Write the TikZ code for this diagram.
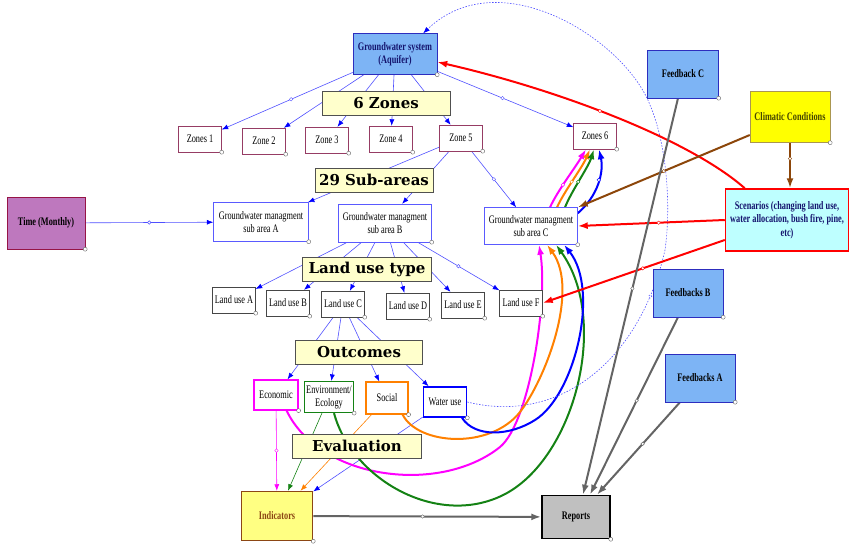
\documentclass[tikz,border=0pt]{standalone}
\usepackage{fontspec}
\usepackage{tikz}
\usetikzlibrary{arrows.meta,backgrounds}
\newfontfamily\nf{Liberation Serif}[FakeStretch=0.72]
\newfontfamily\hf{DejaVu Serif}

\definecolor{lnblue}{RGB}{80,80,255}
\definecolor{zonecol}{RGB}{150,60,100}
\definecolor{gmcol}{RGB}{90,90,255}
\definecolor{lucol}{RGB}{70,70,70}
\definecolor{aqfill}{RGB}{125,180,245}
\definecolor{aqdraw}{RGB}{45,45,190}
\definecolor{hdfill}{RGB}{255,255,204}
\definecolor{hddraw}{RGB}{80,80,80}
\definecolor{timefill}{RGB}{190,120,190}
\definecolor{timedraw}{RGB}{150,20,70}
\definecolor{climfill}{RGB}{255,255,0}
\definecolor{climdraw}{RGB}{170,150,80}
\definecolor{scenfill}{RGB}{190,255,255}
\definecolor{indfill}{RGB}{255,255,130}
\definecolor{inddraw}{RGB}{140,70,20}
\definecolor{repfill}{RGB}{192,192,192}
\definecolor{brn}{RGB}{140,70,10}
\definecolor{grn}{RGB}{20,130,20}
\definecolor{org}{RGB}{255,128,0}
\definecolor{mag}{RGB}{255,0,255}
\definecolor{blu}{RGB}{0,0,255}
\definecolor{gry}{RGB}{100,100,100}
\definecolor{navy}{RGB}{20,20,110}

\tikzset{
  box/.style={draw, fill=white, inner sep=1pt, align=center,
    font=\nf\fontsize{11.5}{13}\selectfont},
  zone/.style={box, draw=zonecol, minimum width=43pt, minimum height=26pt},
  gm/.style={box, draw=gmcol, minimum width=95pt, minimum height=39pt},
  lu/.style={box, draw=lucol, minimum width=43pt, minimum height=26pt},
  oc/.style={box, minimum width=44pt, minimum height=30pt, line width=1.2pt},
  bold/.style={box, font=\nf\bfseries\fontsize{11.5}{13.5}\selectfont},
  hdbox/.style={draw=hddraw, fill=hdfill, line width=0.8pt, minimum height=24pt,
    inner sep=2pt, font=\hf\bfseries\fontsize{15}{17}\selectfont},
  thin/.style={lnblue, line width=0.6pt, -{Latex[length=6.5pt,width=5pt,color=blu]}},
  thk/.style={line width=2pt, -{Latex[length=10pt,width=7pt]}},
  mdot/.style={circle, draw, fill=white, inner sep=0pt, minimum size=3.5pt, line width=0.4pt},
  hnd/.style={circle, draw=gry, fill=white, inner sep=0pt, minimum size=4pt, line width=0.4pt}
}

\begin{document}
\begin{tikzpicture}[x=1pt,y=-1pt]
  \useasboundingbox (0,0) rectangle (850,543);

  % Nodes
  \node[bold, fill=aqfill, draw=aqdraw, text=navy, minimum width=84pt, minimum height=41pt] (gws) at (395,54) {Groundwater system\\(Aquifer)};
  \node[hdbox, minimum width=128pt] (zh) at (386,103) {6 Zones};
  \node[zone] (z1) at (200,139) {Zones 1};
  \node[zone] (z2) at (264,141) {Zone 2};
  \node[zone] (z3) at (327,140) {Zone 3};
  \node[zone] (z4) at (391,139) {Zone 4};
  \node[zone] (z5) at (461,138) {Zone 5};
  \node[zone] (z6) at (595,136) {Zones 6};

  \node[hdbox, minimum width=118pt] (sah) at (374,180) {29 Sub-areas};
  \node[bold, fill=timefill, draw=timedraw, minimum width=78pt, minimum height=52pt] (time) at (46,223) {Time (Monthly)};
  \node[gm] (gma) at (261,222) {Groundwater managment\\sub area A};
  \node[gm, minimum width=93pt, minimum height=38pt] (gmb) at (385,223) {Groundwater managment\\sub area B};
  \node[gm, minimum width=93pt, minimum height=37pt] (gmc) at (531,226) {Groundwater managment\\sub area C};

  \node[bold, fill=aqfill, draw=aqdraw, minimum width=71pt, minimum height=48pt] (fbc) at (683,74) {Feedback C};
  \node[bold, fill=climfill, draw=climdraw, text={rgb,255:red,70;green,70;blue,0}, minimum width=80pt, minimum height=51pt] (clim) at (790,117) {Climatic Conditions};
  \node[bold, fill=scenfill, draw=red, line width=1.5pt, text=navy, minimum width=123pt, minimum height=62pt] (scen) at (787,220) {Scenarios (changing land use,\\water allocation, bush fire, pine,\\etc)};

  \node[hdbox, minimum width=129pt] (luh) at (367,269) {Land use type};
  \node[lu] (lua) at (234,300) {Land use A};
  \node[lu] (lub) at (288,303) {Land use B};
  \node[lu] (luc) at (343,304) {Land use C};
  \node[lu] (lud) at (408,306) {Land use D};
  \node[lu] (lue) at (463,305) {Land use E};
  \node[lu] (luf) at (521,303) {Land use F};

  \node[bold, fill=aqfill, draw=aqdraw, minimum width=70pt, minimum height=48pt] (fbb) at (688,293) {Feedbacks B};
  \node[bold, fill=aqfill, draw=aqdraw, minimum width=70pt, minimum height=48pt] (fba) at (700,378) {Feedbacks A};

  \node[hdbox, minimum width=127pt] (och) at (359,352) {Outcomes};
  \node[oc, draw=mag] (eco) at (276,395) {Economic};
  \node[oc, draw=grn, minimum width=49pt, minimum height=31pt] (env) at (329,397) {Environment/\\Ecology};
  \node[oc, draw=org, minimum width=42pt, minimum height=32pt] (soc) at (387,398) {Social};
  \node[oc, draw=blu, line width=1.6pt, minimum width=43pt] (wu) at (445,402) {Water use};

  \node[hdbox, minimum width=129pt] (evh) at (357,446) {Evaluation};
  \node[bold, fill=indfill, draw=inddraw, line width=1.5pt, text=inddraw, minimum width=71pt, minimum height=49pt] (ind) at (277,516) {Indicators};
  \node[bold, fill=repfill, draw=black, line width=1.5pt, minimum width=68pt, minimum height=43pt] (rep) at (576,517) {Reports};

  % Handles
  \foreach \n in {gws,z1,z2,z3,z4,z5,z6,time,gma,gmb,gmc,fbc,clim,lua,lub,luc,lud,lue,luf,fbb,fba,eco,env,soc,wu,ind,rep}
    \node[hnd] at (\n.south east) {};

  % Edges
  \begin{pgfonlayer}{background}
    \draw[thin] (gws) -- node[mdot, pos=0.47] {} (z1);
    \draw[thin] (gws) -- (z2);
    \draw[thin] (gws) -- (z3);
    \draw[thin] (gws) -- (z4);
    \draw[thin] (gws) -- (z5);
    \draw[thin] (gws) -- node[mdot, pos=0.48] {} (z6);
    \draw[thin] (z5) -- (gma);
    \draw[thin] (z5) -- (gmb);
    \draw[thin] (z5) -- node[mdot] {} (gmc);
    \draw[thin] (time) -- node[mdot] {} (gma);
    \draw[thin] (gmb) -- (lua);
    \draw[thin] (gmb) -- (lub);
    \draw[thin] (gmb) -- (luc);
    \draw[thin] (gmb) -- (lud);
    \draw[thin] (gmb) -- (lue);
    \draw[thin] (gmb) -- node[mdot] {} (luf);
    \draw[thin] (luc) -- (eco);
    \draw[thin] (luc) -- (env);
    \draw[thin] (luc) -- (soc);
    \draw[thin] (luc) -- (wu);
    \draw[thin, mag, -{Latex[length=6.5pt,width=5pt]}] (eco) -- node[mdot] {} (ind);
    \draw[thin, grn, -{Latex[length=6.5pt,width=5pt]}] (env) -- (ind);
    \draw[thin, org, -{Latex[length=6.5pt,width=5pt]}] (soc) -- (ind);
    \draw[thin] (wu) -- (ind);

    % outcomes feeding sub area C
    \draw[thk, mag] ([xshift=-12pt]eco.south east) .. controls (320,480) and (440,495) .. (500,447)
      .. controls (530,422) and (548,300) .. ([xshift=8pt]gmc.south);
    \draw[thk, org] ([xshift=-6pt]soc.south east) .. controls (418,445) and (490,450) .. (520,412)
      .. controls (545,380) and (580,290) .. ([xshift=16pt]gmc.south);
    \draw[thk, grn] ([xshift=5pt]env.south) .. controls (352,480) and (440,530) .. (507,493)
      .. controls (575,455) and (610,320) .. ([xshift=25pt]gmc.south);
    \draw[thk, blu] ([xshift=17pt]wu.south) .. controls (475,438) and (510,436) .. (535,420)
      .. controls (575,395) and (600,290) .. ([xshift=33pt]gmc.south);

    % sub area C to zone 6
    \draw[thk, mag] ([xshift=19pt]gmc.north) .. controls (558,190) and (575,168) .. ([xshift=-9pt]z6.south) node[mdot, pos=0.4] {};
    \draw[thk, org] ([xshift=26pt]gmc.north) .. controls (565,190) and (582,168) .. ([xshift=-5pt]z6.south) node[mdot, pos=0.45] {};
    \draw[thk, grn] ([xshift=34pt]gmc.north) .. controls (572,190) and (588,168) .. ([xshift=-1pt]z6.south) node[mdot, pos=0.45] {};
    \draw[thk, blu] ([yshift=-6pt]gmc.north east) .. controls (598,196) and (604,172) .. ([xshift=4pt]z6.south) node[mdot, pos=0.55] {};

    % water use back to the aquifer
    \draw[thin, dash pattern=on 1.5pt off 1.5pt] (wu.east) .. controls (560,425) and (640,360) .. (665,250) node[mdot, pos=0.85] {}
      .. controls (672,200) and (665,140) .. (650,105)
      .. controls (625,40) and (500,-40) .. ([xshift=-14pt]gws.north east);

    % scenarios
    \draw[thk, red] ([xshift=20pt]scen.north west) .. controls (690,140) and (560,90) .. ([yshift=-8pt]gws.east) node[mdot, pos=0.55] {};
    \draw[thk, red] (scen.west) -- node[mdot, pos=0.45] {} (gmc.east);
    \draw[thk, red] ([yshift=-20pt]scen.west) -- node[mdot, pos=0.45] {} (luf.east);

    % climate
    \draw[thk, brn] ([yshift=-18pt]clim.west) -- node[mdot, pos=0.5] {} (gmc.north east);
    \draw[thk, brn] (clim.south) -- node[mdot, pos=0.35] {} (clim.south |- scen.north);

    % feedbacks and reports
    \draw[thk, gry] ([xshift=-5pt]fbc.south) -- node[mdot, pos=0.48] {} ([xshift=7pt]rep.north);
    \draw[thk, gry] ([xshift=-10pt]fbb.south) -- node[mdot, pos=0.47] {} ([xshift=14pt]rep.north);
    \draw[thk, gry] ([xshift=-20pt]fba.south) -- node[mdot, pos=0.45] {} ([xshift=21pt]rep.north);
    \draw[thk, gry] (ind) -- node[mdot, pos=0.48] {} (rep);
  \end{pgfonlayer}
\end{tikzpicture}
\end{document}
